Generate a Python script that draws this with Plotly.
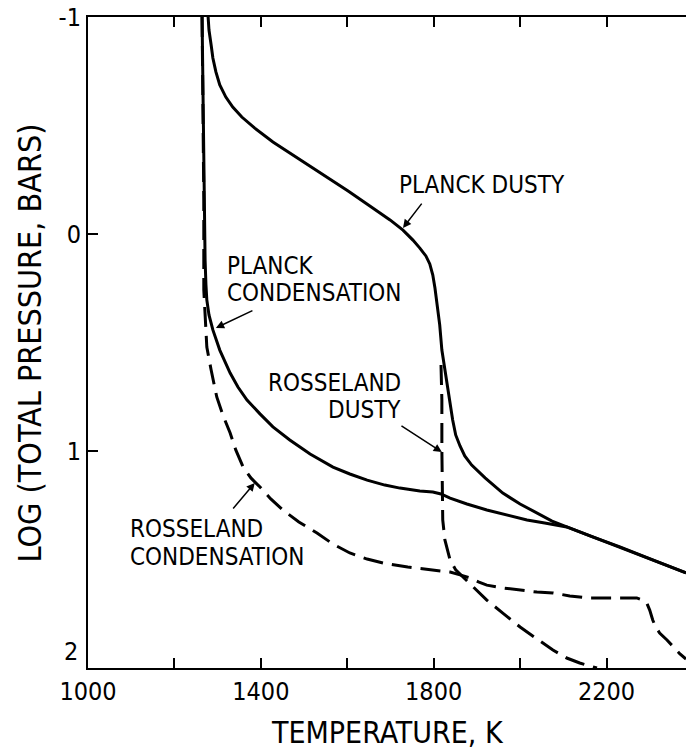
import plotly.graph_objects as go

# Temperature (K) vs log total pressure (bars) for four opacity cases
planck_dusty_T = [1278, 1280, 1285, 1289, 1296, 1305, 1319, 1335, 1356, 1386, 1428, 1486,
                  1544, 1602, 1659, 1699, 1729, 1752, 1768, 1782, 1791, 1798, 1803, 1807,
                  1814, 1819, 1826, 1831, 1838, 1844, 1851, 1861, 1872, 1888, 1919, 1960,
                  2000, 2039, 2074, 2108, 2168, 2231, 2307, 2384]
planck_dusty_P = [-1.000, -0.940, -0.871, -0.811, -0.747, -0.687, -0.631, -0.585, -0.539,
                  -0.488, -0.424, -0.350, -0.272, -0.198, -0.120, -0.065, -0.018, 0.028,
                  0.065, 0.101, 0.138, 0.189, 0.249, 0.304, 0.419, 0.535, 0.627, 0.687,
                  0.779, 0.857, 0.926, 0.977, 1.023, 1.065, 1.124, 1.194, 1.244, 1.286,
                  1.323, 1.350, 1.396, 1.442, 1.502, 1.562]

planck_cond_T = [1264, 1266, 1268, 1271, 1273, 1275, 1280, 1289, 1305, 1329, 1347, 1368,
                 1398, 1428, 1467, 1514, 1567, 1606, 1646, 1687, 1722, 1768, 1798, 1817,
                 1838, 1877, 1923, 1969, 2016, 2057, 2092, 2108, 2168, 2231, 2307, 2384]
planck_cond_P = [-1.000, -0.618, -0.157, 0.120, 0.235, 0.304, 0.373, 0.442, 0.535, 0.641,
                 0.705, 0.765, 0.829, 0.889, 0.949, 1.014, 1.074, 1.106, 1.134, 1.157,
                 1.171, 1.184, 1.189, 1.198, 1.217, 1.244, 1.272, 1.295, 1.318, 1.332,
                 1.346, 1.350, 1.396, 1.442, 1.502, 1.562]

ross_cond_T = [1264, 1266, 1268, 1268, 1271, 1273, 1275, 1285, 1298, 1312, 1329, 1342,
               1359, 1377, 1398, 1423, 1451, 1488, 1530, 1567, 1606, 1646, 1683, 1740,
               1798, 1838, 1861, 1884, 1905, 1923, 1960, 2000, 2039, 2076, 2115, 2155,
               2212, 2270, 2284, 2293, 2300, 2307, 2314, 2323, 2340, 2354, 2370, 2384]
ross_cond_P = [-1.000, -0.618, -0.157, 0.258, 0.382, 0.465, 0.521, 0.627, 0.751, 0.834,
               0.917, 0.995, 1.074, 1.124, 1.166, 1.221, 1.272, 1.327, 1.378, 1.429,
               1.470, 1.498, 1.516, 1.535, 1.548, 1.558, 1.571, 1.585, 1.604, 1.618,
               1.631, 1.641, 1.650, 1.654, 1.668, 1.677, 1.677, 1.677, 1.687, 1.700,
               1.733, 1.779, 1.811, 1.839, 1.871, 1.903, 1.935, 1.959]

ross_dusty_T = [1817, 1819, 1819, 1821, 1821, 1826, 1838, 1851, 1868, 1895, 1923, 1960,
                2000, 2039, 2076, 2108, 2138, 2178]
ross_dusty_P = [0.604, 0.765, 0.995, 1.226, 1.318, 1.410, 1.502, 1.548, 1.581, 1.636,
                1.687, 1.747, 1.811, 1.866, 1.917, 1.954, 1.977, 2.000]

x_ticks = [1000, 1200, 1400, 1600, 1800, 2000, 2200]
x_tick_text = ["1000", "", "1400", "", "1800", "", "2200"]
y_ticks = [-1, 0, 1, 2]
y_tick_text = ["-1", "0", "1", ""]
y_bottom_label = "2"

FONT = "DejaVu Sans Condensed, sans-serif"
INK = "black"

fig = go.Figure()
solid = dict(color=INK, width=3)
dashed = dict(color=INK, width=3, dash="20px,9px")

fig.add_trace(go.Scatter(x=planck_dusty_T, y=planck_dusty_P, mode="lines", line=solid))
fig.add_trace(go.Scatter(x=planck_cond_T, y=planck_cond_P, mode="lines", line=solid))
fig.add_trace(go.Scatter(x=ross_cond_T, y=ross_cond_P, mode="lines", line=dashed))
fig.add_trace(go.Scatter(x=ross_dusty_T, y=ross_dusty_P, mode="lines", line=dashed))

# curve labels: (text, T, logP, xanchor)
labels = [
    ("PLANCK DUSTY", 1715, -0.226, "left"),
    ("PLANCK", 1317, 0.146, "left"),
    ("CONDENSATION", 1317, 0.270, "left"),
    ("ROSSELAND", 1729, 0.686, "right"),
    ("DUSTY", 1729, 0.811, "right"),
    ("ROSSELAND", 1093, 1.358, "left"),
    ("CONDENSATION", 1093, 1.487, "left"),
]
for text, t, p, anchor in labels:
    fig.add_annotation(x=t, y=p, text=text, showarrow=False, xanchor=anchor,
                       yanchor="middle", font=dict(family=FONT, size=24, color=INK))

# leader arrows: (head T, head logP, tail T, tail logP)
arrows = [
    (1729, -0.028, 1775, -0.147),
    (1296, 0.433, 1384, 0.350),
    (1819, 1.005, 1722, 0.880),
    (1386, 1.147, 1333, 1.272),
]
for ht, hp, tt, tp in arrows:
    fig.add_annotation(x=ht, y=hp, ax=tt, ay=tp, axref="x", ayref="y", text="",
                       showarrow=True, arrowhead=2, arrowsize=1.1, arrowwidth=1.5,
                       arrowcolor=INK)

# bottom y tick label sits just above the axis corner
fig.add_annotation(text=y_bottom_label, xref="paper", yref="y", x=0, y=2,
                   xshift=-8, showarrow=False, xanchor="right", yanchor="bottom",
                   font=dict(family=FONT, size=25, color=INK))

fig.add_annotation(text="TEMPERATURE, K", xref="paper", yref="paper", x=0.5, y=-0.0998,
                   showarrow=False, xanchor="center", yanchor="middle",
                   font=dict(family=FONT, size=30, color=INK))
fig.add_annotation(text="LOG (TOTAL PRESSURE, BARS)", xref="paper", yref="paper",
                   x=-0.097, y=0.5, textangle=-90, showarrow=False,
                   xanchor="center", yanchor="middle",
                   font=dict(family=FONT, size=32, color=INK))

fig.update_layout(
    width=686, height=751,
    margin=dict(l=88, r=0, t=17, b=83),
    paper_bgcolor="white", plot_bgcolor="white",
    showlegend=False,
    xaxis=dict(range=[1000, 2384], tickvals=x_ticks, ticktext=x_tick_text,
               ticks="inside", ticklen=10, tickwidth=2, tickcolor=INK,
               showline=True, linewidth=2, linecolor=INK, mirror="ticks",
               showgrid=False, zeroline=False,
               tickfont=dict(family=FONT, size=25, color=INK)),
    yaxis=dict(range=[2, -1], tickvals=y_ticks, ticktext=y_tick_text,
               ticks="inside", ticklen=10, tickwidth=2, tickcolor=INK,
               showline=True, linewidth=2, linecolor=INK,
               showgrid=False, zeroline=False,
               tickfont=dict(family=FONT, size=25, color=INK)),
    yaxis2=dict(range=[2, -1], tickvals=y_ticks, overlaying="y", side="right",
                ticks="inside", ticklen=8, tickwidth=2, tickcolor=INK,
                showticklabels=False, showline=False, showgrid=False, zeroline=False),
)

fig.write_html("out.html")
